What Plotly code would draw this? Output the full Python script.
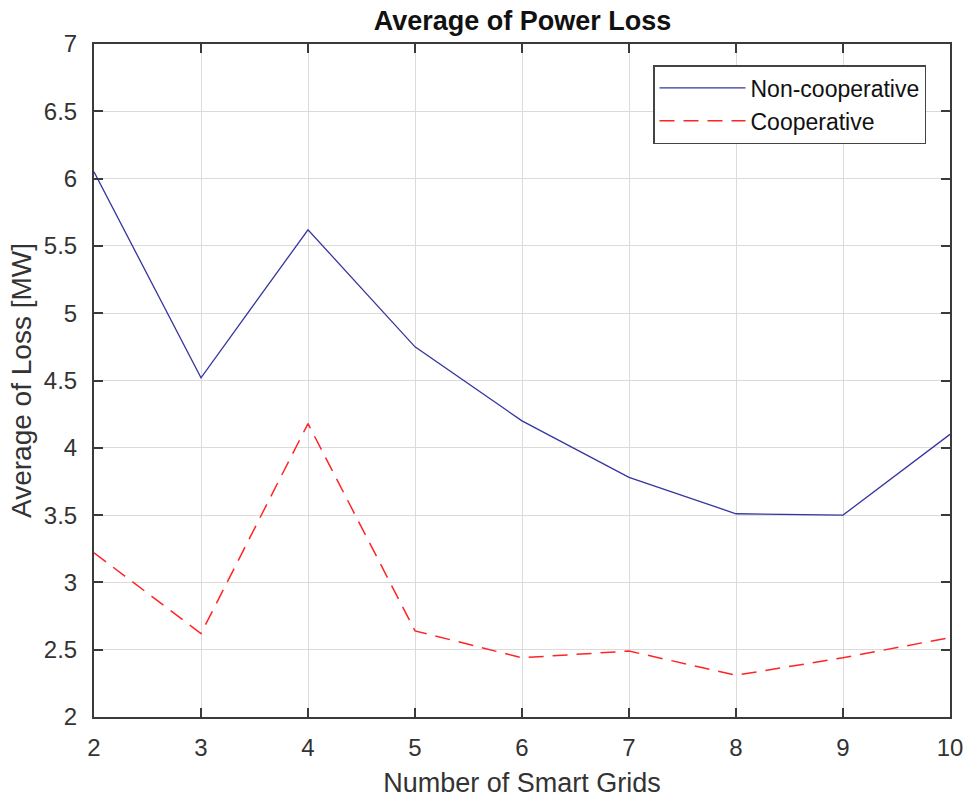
import plotly.graph_objects as go

# Number of smart grids on the x axis
grids = [2, 3, 4, 5, 6, 7, 8, 9, 10]

# Average power loss [MW] for each strategy
non_cooperative = [6.05, 4.52, 5.62, 4.75, 4.20, 3.78, 3.51, 3.50, 4.10]
cooperative = [3.22, 2.62, 4.18, 2.64, 2.44, 2.49, 2.31, 2.44, 2.59]

x_ticks = [2, 3, 4, 5, 6, 7, 8, 9, 10]
y_ticks = [2, 2.5, 3, 3.5, 4, 4.5, 5, 5.5, 6, 6.5, 7]
y_tick_text = ["2", "2.5", "3", "3.5", "4", "4.5", "5", "5.5", "6", "6.5", "7"]

FONT = "Liberation Sans, Arial, sans-serif"
AXIS_COLOR = "#3a3a3a"
GRID_COLOR = "#dedada"

fig = go.Figure()
fig.add_trace(go.Scatter(
    x=grids, y=non_cooperative, mode="lines", name="Non-cooperative",
    line=dict(color="#3535a0", width=1.3),
))
fig.add_trace(go.Scatter(
    x=grids, y=cooperative, mode="lines", name="Cooperative",
    line=dict(color="#ff2424", width=1.5, dash="15px,9px"),
))

axis_common = dict(
    showline=True, linecolor=AXIS_COLOR, linewidth=2, mirror="ticks",
    ticks="inside", ticklen=9, tickwidth=1.5, tickcolor=AXIS_COLOR,
    showgrid=True, gridcolor=GRID_COLOR, gridwidth=1.2,
    zeroline=False, automargin=False,
    tickfont=dict(family=FONT, size=24, color="#333333"),
)

fig.update_layout(
    width=969, height=798,
    margin=dict(l=94, r=19, t=44, b=81),
    paper_bgcolor="white", plot_bgcolor="white",
    title=dict(
        text="<b>Average of Power Loss</b>",
        x=(362 + 683) / 2 / 969, xanchor="center", y=1 - 21 / 798, yanchor="middle",
        font=dict(family=FONT, size=27, color="#111111"),
    ),
    xaxis=dict(
        range=[2, 10], tickvals=x_ticks,
        title=dict(text="Number of Smart Grids", standoff=13,
                   font=dict(family=FONT, size=27, color="#333333")),
        ticklabelstandoff=8,
        **axis_common,
    ),
    yaxis=dict(
        range=[2, 7], tickvals=y_ticks, ticktext=y_tick_text,
        title=dict(text="Average of Loss [MW]", standoff=4,
                   font=dict(family=FONT, size=28, color="#333333")),
        ticklabelstandoff=10,
        **axis_common,
    ),
    legend=dict(
        x=(653 - 94) / 856, y=(717 - 65) / 673, xanchor="left", yanchor="top",
        bgcolor="white", bordercolor="#444444", borderwidth=1.5,
        font=dict(family=FONT, size=23, color="#111111"),
        itemwidth=86, tracegroupgap=0,
    ),
    showlegend=True,
)

fig.write_html("out.html")
